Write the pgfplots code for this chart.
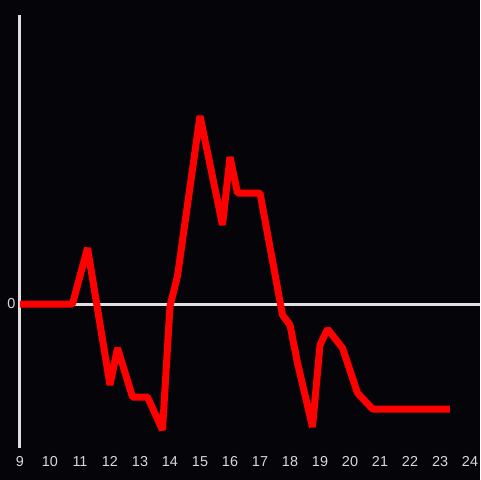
\documentclass[border=0pt]{standalone}
\usepackage{fontspec}
\setmainfont{Liberation Sans}
\usepackage{pgfplots}
\pgfplotsset{compat=1.18}
\definecolor{bg}{HTML}{050408}
\definecolor{axgray}{HTML}{E0E0E0}
\definecolor{lbl}{HTML}{D8D8D8}

\begin{document}
\begin{tikzpicture}
\fill[bg] (0,0) rectangle (360pt,360pt);
\begin{axis}[
  at={(15pt,24pt)}, anchor=south west,
  scale only axis,
  width=345pt, height=324.75pt,
  xmin=9, xmax=24.333,
  ymin=-144, ymax=289,
  axis x line*=bottom,
  axis y line*=left,
  every outer x axis line/.append style={draw=none},
  y axis line style={-, draw=axgray, line width=2.25pt},
  xtick={9,10,...,24},
  ytick=\empty,
  extra y ticks={0},
  extra y tick style={grid=major, major grid style={draw=axgray, line width=2.25pt}},
  major tick length=0pt,
  tick label style={font=\fontsize{10.8}{12}\selectfont, text=lbl},
  xticklabel style={yshift=-2.5pt, text height=8pt, text depth=0pt},
  /pgf/number format/assume math mode=true,
  clip=false,
]
\addplot[red, line width=5.25pt, line join=bevel, no markers] coordinates {
  (9.0,0) (10.75,0) (11.25,56) (12.0,-81) (12.25,-44) (12.75,-93)
  (13.25,-93) (13.75,-126) (14.0,-2) (14.25,28) (15.0,188) (15.75,79)
  (16.0,147) (16.25,111) (17.0,111) (17.75,-11) (18.0,-21) (18.25,-59)
  (18.75,-123) (19.0,-41) (19.25,-25) (19.75,-44) (20.25,-89) (20.75,-105)
  (23.33,-105)
};
\end{axis}
\pgfresetboundingbox
\useasboundingbox (0,0) rectangle (360pt,360pt);
\end{tikzpicture}
\end{document}
